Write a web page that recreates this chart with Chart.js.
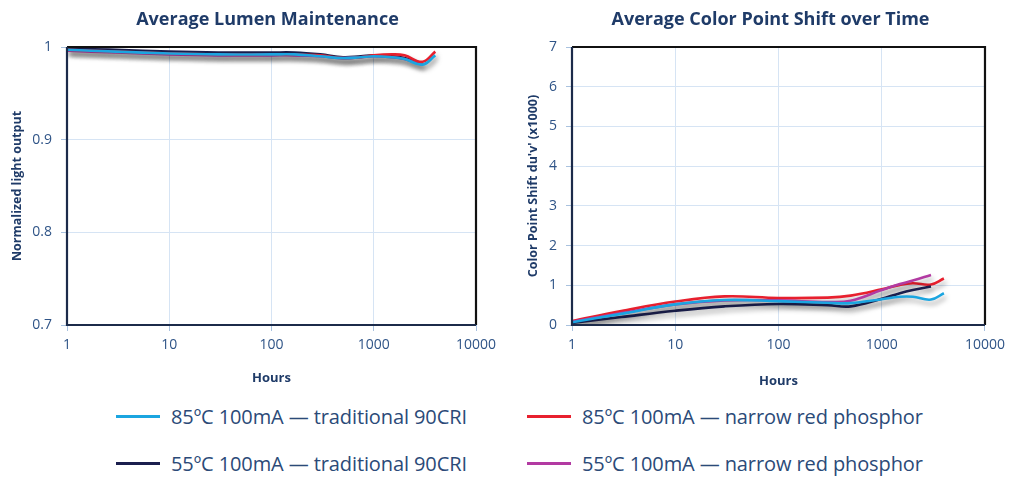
<!DOCTYPE html>
<html>
<head>
<meta charset="utf-8">
<script src="https://cdn.jsdelivr.net/npm/chart.js@4.4.1/dist/chart.umd.min.js"></script>
<style>
  html, body { margin:0; padding:0; background:#fff; }
  body { width:1011px; height:480px; position:relative; overflow:hidden; font-family:"Open Sans", sans-serif; }
  #wl { position:absolute; left:0; top:0; width:505px; height:395px; }
  #wr { position:absolute; left:505px; top:0; width:506px; height:395px; }
  .leg { position:absolute; display:flex; align-items:center; font-size:20px; color:#2b4a78; white-space:nowrap; letter-spacing:-0.1px; }
  .leg span.sw { display:inline-block; width:44px; height:3px; margin-right:11px; }
</style>
</head>
<body>
<div id="wl"><canvas id="cl" width="505" height="395"></canvas></div>
<div id="wr"><canvas id="cr" width="506" height="395"></canvas></div>
<div id="legend"></div>
<script>
// ---------- data ----------
const SERIES_NAMES = [
  "85ºC 100mA — traditional 90CRI",
  "85ºC 100mA — narrow red phosphor",
  "55ºC 100mA — traditional 90CRI",
  "55ºC 100mA — narrow red phosphor"
];
const X_TICKS = [1, 10, 100, 1000, 10000];
const LM_Y_TICKS = [0.7, 0.8, 0.9, 1];
const CS_Y_TICKS = [0, 1, 2, 3, 4, 5, 6, 7];

// Average Lumen Maintenance
const lmHours4000 = [1, 3, 10, 30, 100, 168, 300, 500, 750, 1000, 1500, 2000, 3000, 4000];
const lmHours3000 = [1, 3, 10, 30, 100, 168, 300, 500, 750, 1000, 1500, 2000, 3000];
const lm85Trad   = [0.997, 0.995, 0.993, 0.992, 0.992, 0.992, 0.990, 0.988, 0.989, 0.990, 0.989, 0.987, 0.981, 0.991];
const lm85Narrow = [0.997, 0.995, 0.993, 0.992, 0.992, 0.992, 0.991, 0.988, 0.989, 0.991, 0.992, 0.991, 0.984, 0.995];
const lm55Trad   = [0.998, 0.997, 0.995, 0.994, 0.994, 0.994, 0.992, 0.989, 0.990, 0.991, 0.990, 0.988, 0.982];
const lm55Narrow = [0.996, 0.994, 0.992, 0.991, 0.991, 0.991, 0.990, 0.988, 0.989, 0.990, 0.989, 0.987, 0.981];

// Average Color Point Shift over Time (du'v' x1000)
const csHours4000 = [1, 3, 10, 30, 100, 300, 500, 1000, 1500, 2000, 3000, 4000];
const csHours3000 = [1, 3, 10, 30, 100, 300, 500, 1000, 1500, 2000, 3000];
const cs85Trad   = [0.07, 0.28, 0.52, 0.63, 0.60, 0.56, 0.55, 0.65, 0.71, 0.71, 0.64, 0.80];
const cs85Narrow = [0.10, 0.35, 0.59, 0.72, 0.68, 0.69, 0.74, 0.90, 1.01, 1.05, 1.02, 1.17];
const cs55Trad   = [0.05, 0.20, 0.36, 0.47, 0.53, 0.50, 0.47, 0.66, 0.80, 0.88, 0.97];
const cs55Narrow = [0.08, 0.30, 0.52, 0.62, 0.62, 0.58, 0.61, 0.88, 1.03, 1.12, 1.26];

const COLORS = ["#1ba5e0", "#e8202e", "#1b1f4e", "#b23aa2"];

// ---------- helpers ----------
const pts = (xs, ys) => ys.map((y, i) => ({ x: xs[i], y: y }));
const TICK_COLOR = "#2f5487";
const TITLE_COLOR = "#1f3b68";
const GRID = "#d6e4f4";
const FONT = "Open Sans";

function ds(label, data, color) {
  return { label, data, borderColor: color, backgroundColor: color, borderWidth: 2.6,
           pointRadius: 0, tension: 0.4, fill: false };
}

const shadowPlugin = {
  id: "shadow",
  beforeDatasetDraw(chart) {
    const c = chart.ctx; c.save();
    c.shadowColor = "rgba(0,0,0,0.35)"; c.shadowBlur = 5; c.shadowOffsetX = 2; c.shadowOffsetY = 4;
  },
  afterDatasetDraw(chart) { chart.ctx.restore(); }
};

const framePlugin = {
  id: "frame",
  afterDatasetsDraw(chart) {
    const a = chart.chartArea, c = chart.ctx;
    c.save();
    c.lineWidth = 2.2; c.strokeStyle = "#111";
    c.beginPath(); c.moveTo(a.left, a.top); c.lineTo(a.right, a.top); c.lineTo(a.right, a.bottom); c.stroke();
    c.strokeStyle = "#1c2b4a";
    c.beginPath(); c.moveTo(a.left, a.top); c.lineTo(a.left, a.bottom); c.lineTo(a.right, a.bottom); c.stroke();
    c.restore();
  }
};

const titlePlugin = {
  id: "ctitle",
  afterDraw(chart, args, opts) {
    const a = chart.chartArea, c = chart.ctx;
    c.save();
    c.font = "bold 18px '" + FONT + "'";
    c.fillStyle = TITLE_COLOR; c.textAlign = "center"; c.textBaseline = "middle";
    c.fillText(opts.text, (a.left + a.right) / 2 + (opts.dx || 0), opts.y);
    c.restore();
  }
};

function makeOptions(cfg) {
  return {
    responsive: false, animation: false,
    layout: { padding: { top: 47, left: 0, right: cfg.right, bottom: 0 } },
    plugins: { legend: { display: false }, tooltip: { enabled: false },
               ctitle: { text: cfg.title, y: 20, dx: cfg.tdx } },
    scales: {
      x: {
        type: "logarithmic", min: 1, max: 10000,
        afterBuildTicks: s => { s.ticks = X_TICKS.map(v => ({ value: v })); },
        afterFit: s => { s.height = 70; },
        ticks: { callback: v => String(v), color: TICK_COLOR, font: { family: FONT, size: 14 },
                 padding: 6, autoSkip: false, maxRotation: 0 },
        grid: { color: GRID, lineWidth: 1, tickLength: 6, tickColor: "#a9c2df" },
        border: { display: false },
        title: { display: true, text: "Hours", color: TITLE_COLOR,
                 font: { family: FONT, size: 13, weight: "bold" }, padding: { top: 4, bottom: cfg.hbot } }
      },
      y: {
        type: "linear", min: cfg.ymin, max: cfg.ymax,
        afterBuildTicks: s => { s.ticks = cfg.yticks.map(v => ({ value: v })); },
        afterFit: s => { s.width = 67; },
        ticks: { callback: v => String(v), color: TICK_COLOR, font: { family: FONT, size: 14 }, padding: 9 },
        grid: { color: GRID, lineWidth: 1, tickLength: 6, tickColor: "#a9c2df" },
        border: { display: false },
        title: { display: true, text: cfg.ytitle, color: TITLE_COLOR,
                 font: { family: FONT, size: 12.5, weight: "bold" }, padding: { top: cfg.ytpad, bottom: 0 } }
      }
    }
  };
}

new Chart(document.getElementById("cl"), {
  type: "line",
  data: { datasets: [
    ds(SERIES_NAMES[0], pts(lmHours4000, lm85Trad), COLORS[0]),
    ds(SERIES_NAMES[1], pts(lmHours4000, lm85Narrow), COLORS[1]),
    ds(SERIES_NAMES[3], pts(lmHours3000, lm55Narrow), COLORS[3]),
    ds(SERIES_NAMES[2], pts(lmHours3000, lm55Trad), COLORS[2])
  ]},
  options: makeOptions({ right: 29, title: "Average Lumen Maintenance", tdx: -4, ymin: 0.7, ymax: 1,
                         yticks: LM_Y_TICKS, ytitle: "Normalized light output", ytpad: 10, hbot: 9 }),
  plugins: [shadowPlugin, framePlugin, titlePlugin]
});

new Chart(document.getElementById("cr"), {
  type: "line",
  data: { datasets: [
    ds(SERIES_NAMES[0], pts(csHours4000, cs85Trad), COLORS[0]),
    ds(SERIES_NAMES[2], pts(csHours3000, cs55Trad), COLORS[2]),
    ds(SERIES_NAMES[3], pts(csHours3000, cs55Narrow), COLORS[3]),
    ds(SERIES_NAMES[1], pts(csHours4000, cs85Narrow), COLORS[1])
  ]},
  options: makeOptions({ right: 23, title: "Average Color Point Shift over Time", tdx: -8, ymin: 0, ymax: 7,
                         yticks: CS_Y_TICKS, ytitle: "Color Point Shift du'v' (x1000)", ytpad: 21, hbot: 6 }),
  plugins: [shadowPlugin, framePlugin, titlePlugin]
});

// ---------- legend ----------
const LEG_POS = [[116, 418], [527, 418], [116, 465], [527, 465]];
const legend = document.getElementById("legend");
SERIES_NAMES.forEach((name, i) => {
  const d = document.createElement("div");
  d.className = "leg";
  d.style.left = LEG_POS[i][0] + "px";
  d.style.top = (LEG_POS[i][1] - 15) + "px";
  d.innerHTML = '<span class="sw" style="background:' + COLORS[i] + '"></span>' + name;
  legend.appendChild(d);
});
</script>
</body>
</html>
